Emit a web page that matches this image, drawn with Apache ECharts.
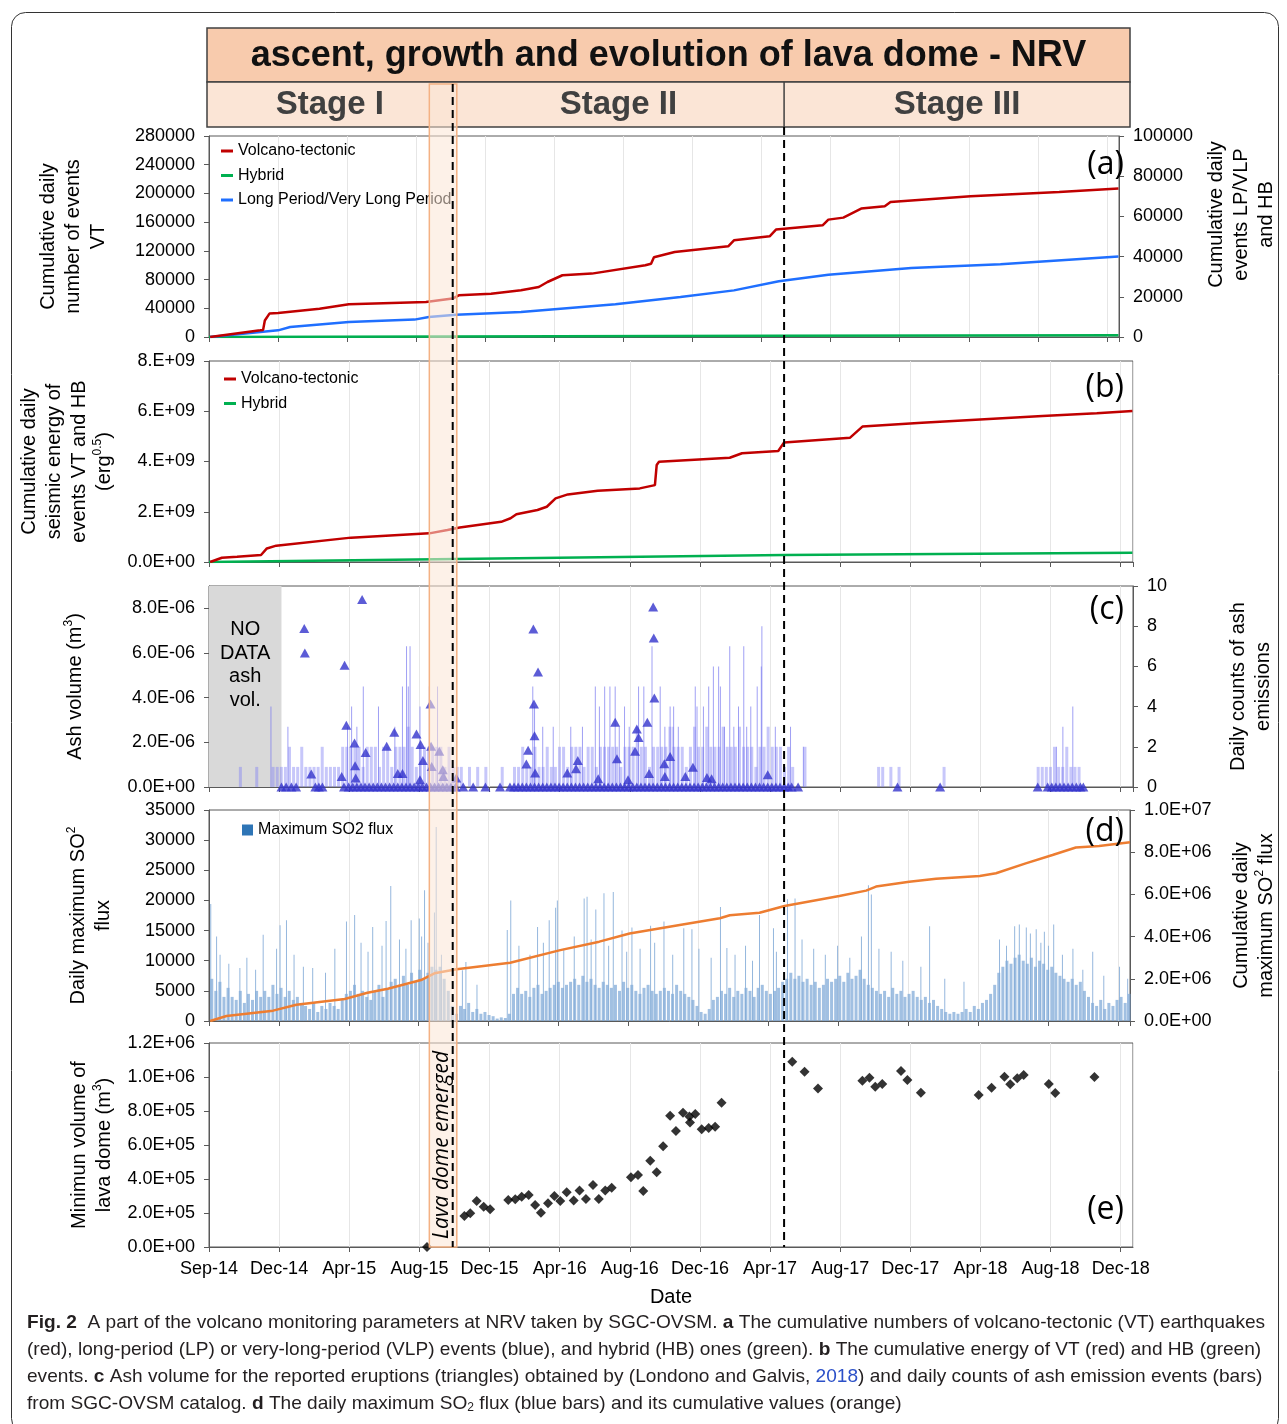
<!DOCTYPE html>
<html>
<head>
<meta charset="utf-8">
<title>NRV lava dome monitoring</title>
<script src="https://cdn.jsdelivr.net/npm/echarts@6.0.0/dist/echarts.min.js"></script>
<style>html,body{margin:0;padding:0;background:#fff;}</style>
</head>
<body>
<div id="main" style="width:1287px;height:1424px;"></div>
<script type="text/javascript">
// ---------- data ----------
var X_START = '2014-09-01';
var X_END = '2018-12-30';
var xTickLabels = ['Sep-14', 'Dec-14', 'Apr-15', 'Aug-15', 'Dec-15', 'Apr-16', 'Aug-16',
    'Dec-16', 'Apr-17', 'Aug-17', 'Dec-17', 'Apr-18', 'Aug-18', 'Dec-18'];

// stage limits / lava dome window
var bandStart = '2015-09-13';
var bandEnd = '2015-10-30';
var stage2Start = '2015-10-23';
var stage3Start = '2017-05-12';
var noDataEnd = '2015-01-03';

// (a) cumulative number of events
var vtCount = [['2014-09-03', 0], ['2014-11-29', 9300], ['2014-12-04', 9900], ['2014-12-07', 23000],
    ['2014-12-15', 32600], ['2014-12-30', 33400], ['2015-03-12', 39500], ['2015-05-02', 45500],
    ['2015-09-13', 48800], ['2015-10-29', 53500], ['2015-11-09', 58000], ['2016-01-04', 60400],
    ['2016-02-25', 65000], ['2016-03-27', 69700], ['2016-04-11', 76600], ['2016-05-07', 86000],
    ['2016-06-27', 88300], ['2016-09-28', 99900], ['2016-10-08', 102000], ['2016-10-13', 111000],
    ['2016-11-18', 118400], ['2017-02-19', 126300], ['2017-03-01', 134700], ['2017-05-02', 140300],
    ['2017-05-13', 149600], ['2017-08-02', 155600], ['2017-08-12', 163500], ['2017-09-07', 166300],
    ['2017-10-08', 178900], ['2017-11-18', 182100], ['2017-11-28', 188100], ['2018-04-16', 196000],
    ['2018-09-17', 202000], ['2018-12-29', 206700]];
var hbCount = [['2014-09-01', 0], ['2015-10-23', 300], ['2017-05-12', 600], ['2018-12-29', 850]];
var lpCount = [['2014-09-03', 0], ['2014-12-30', 3300], ['2015-01-20', 5000], ['2015-05-02', 7500],
    ['2015-08-24', 8650], ['2015-09-18', 9950], ['2015-11-04', 11100], ['2016-02-25', 12400],
    ['2016-08-07', 16300], ['2016-11-28', 19900], ['2017-03-01', 23200], ['2017-05-18', 27700],
    ['2017-08-12', 31000], ['2018-01-03', 34300], ['2018-06-07', 36200], ['2018-12-29', 40100]];

// (b) cumulative seismic energy
var vtEnergy = [['2014-09-03', 0], ['2014-09-23', 1.7e8], ['2014-10-19', 2.1e8], ['2014-11-29', 2.8e8],
    ['2014-12-09', 5.4e8], ['2014-12-25', 6.5e8], ['2015-05-02', 9.7e8], ['2015-09-13', 1.14e9],
    ['2015-10-14', 1.27e9], ['2015-11-04', 1.37e9], ['2016-01-14', 1.60e9], ['2016-01-30', 1.74e9],
    ['2016-02-09', 1.90e9], ['2016-03-16', 2.07e9], ['2016-04-01', 2.20e9], ['2016-04-16', 2.53e9],
    ['2016-05-07', 2.69e9], ['2016-06-27', 2.84e9], ['2016-09-07', 2.93e9], ['2016-10-03', 3.06e9],
    ['2016-10-06', 3.86e9], ['2016-10-10', 3.99e9], ['2017-02-08', 4.15e9], ['2017-03-01', 4.33e9],
    ['2017-05-02', 4.42e9], ['2017-05-12', 4.76e9], ['2017-09-02', 4.95e9], ['2017-09-23', 5.39e9],
    ['2018-01-03', 5.54e9], ['2018-07-28', 5.81e9], ['2018-10-29', 5.92e9], ['2018-12-29', 6.01e9]];
var hbEnergy = [['2014-09-01', 0], ['2015-10-29', 1.2e8], ['2017-05-12', 2.8e8], ['2018-12-29', 3.7e8]];

// (c) ash: weekly level of daily counts (from 2014-09-01, 7 days apart), single tall days, volumes
var ashWeekly = [0, 0, 0, 0, 0, 0, 0, 1, 0, 0, 0, 1, 0, 0, 0, 1, 1, 1,
    1, 2, 1, 1, 2, 1, 1, 1, 1, 2, 1, 1, 1, 1, 2,
    2, 2, 2, 2, 1, 2, 2, 2, 1, 2,
    2, 1, 2, 2, 2, 3, 2, 1, 2, 2, 2, 2,
    2, 2, 1, 2, 1, 1,
    1, 0, 1, 0, 1, 0, 1, 0, 0, 0, 1, 0, 0,
    1, 1, 2, 1, 1, 2, 1, 1, 2, 1, 1, 2,
    2, 1, 2, 2, 2, 1, 2, 2, 1, 2, 2, 2,
    2, 2, 1, 2, 2, 2, 3, 2, 2, 1, 2, 2,
    2, 2, 3, 2, 2, 2, 1, 2, 3, 2,
    2, 3, 2, 2, 2, 3, 2, 2, 2, 3,
    2, 2, 2, 1, 2, 2, 3, 2, 2,
    2, 1, 2, 1, 0, 0, 2,
    0, 0, 0, 0, 0, 0, 0, 0, 0, 0, 0, 0, 0, 0, 0, 0, 0,
    1, 1, 0, 1, 0, 1,
    0, 0, 0, 0, 0, 0, 0, 0, 0, 0, 1,
    0, 0, 0, 0, 0, 0, 0, 0, 0, 0, 0, 0, 0, 0, 0, 0, 0, 0, 0, 0, 0, 0,
    1, 1, 1, 1, 2, 1, 1, 2, 1, 1, 1,
    0, 0, 0, 0, 0, 0, 0, 0, 0, 0, 0, 0, 0];
var ashPeaks = [['2014-12-16', 4], ['2015-01-14', 3], ['2015-04-26', 3], ['2015-05-03', 4], ['2015-05-12', 3],
    ['2015-05-23', 5], ['2015-06-18', 4], ['2015-07-16', 3], ['2015-07-29', 5], ['2015-08-05', 7],
    ['2015-08-08', 5], ['2015-08-11', 7], ['2015-08-28', 4], ['2015-09-13', 5], ['2015-09-27', 5],
    ['2016-03-08', 5], ['2016-03-11', 4], ['2016-03-25', 3], ['2016-04-12', 3], ['2016-05-12', 3],
    ['2016-06-01', 3], ['2016-06-23', 5], ['2016-06-30', 4], ['2016-07-09', 5], ['2016-07-18', 5],
    ['2016-07-27', 5], ['2016-08-03', 3], ['2016-08-12', 4], ['2016-08-20', 3], ['2016-09-05', 5],
    ['2016-09-14', 5], ['2016-09-28', 7], ['2016-10-12', 5], ['2016-10-20', 3], ['2016-10-29', 4],
    ['2016-11-03', 3], ['2016-11-04', 4], ['2016-11-12', 3], ['2016-12-11', 5], ['2016-12-14', 4],
    ['2016-12-25', 4], ['2017-01-03', 5], ['2017-01-11', 6], ['2017-01-20', 6], ['2017-01-23', 5],
    ['2017-01-30', 3], ['2017-02-08', 7], ['2017-02-15', 3], ['2017-02-23', 4], ['2017-03-04', 7],
    ['2017-03-09', 3], ['2017-03-16', 4], ['2017-03-27', 5], ['2017-04-03', 6], ['2017-04-04', 8],
    ['2017-04-27', 3], ['2017-05-23', 3], ['2017-06-14', 2], ['2018-08-21', 2], ['2018-09-01', 3],
    ['2018-09-18', 4]];
var ashVolume = [['2015-02-11', 7.1e-6], ['2015-02-12', 6.0e-6], ['2015-02-23', 0.58e-6], ['2015-04-16', 0.47e-6],
    ['2015-04-21', 5.45e-6], ['2015-04-24', 2.76e-6], ['2015-05-08', 1.97e-6], ['2015-05-09', 0.95e-6],
    ['2015-05-10', 0.4e-6], ['2015-05-21', 8.4e-6], ['2015-05-27', 1.55e-6], ['2015-07-02', 1.82e-6],
    ['2015-07-15', 2.45e-6], ['2015-07-21', 0.6e-6], ['2015-07-29', 0.6e-6], ['2015-08-22', 2.37e-6],
    ['2015-08-28', 0.33e-6], ['2015-08-29', 1.9e-6], ['2015-09-02', 1.19e-6], ['2015-09-15', 3.72e-6],
    ['2015-09-16', 1.82e-6], ['2015-09-17', 0.92e-6], ['2015-09-30', 1.6e-6], ['2015-10-06', 0.77e-6],
    ['2015-10-07', 0.47e-6], ['2015-10-29', 0.4e-6], ['2016-02-26', 1.03e-6], ['2016-02-29', 1.64e-6],
    ['2016-03-09', 7.07e-6], ['2016-03-10', 3.72e-6], ['2016-03-11', 2.3e-6], ['2016-03-12', 0.63e-6],
    ['2016-03-17', 5.15e-6], ['2016-05-06', 0.63e-6], ['2016-05-21', 0.82e-6], ['2016-05-24', 1.19e-6],
    ['2016-06-28', 0.37e-6], ['2016-07-27', 2.9e-6], ['2016-07-30', 1.27e-6], ['2016-08-18', 0.33e-6],
    ['2016-08-30', 1.6e-6], ['2016-09-02', 2.6e-6], ['2016-09-05', 2.22e-6], ['2016-09-20', 2.9e-6],
    ['2016-09-23', 0.6e-6], ['2016-09-30', 8.06e-6], ['2016-10-01', 6.67e-6], ['2016-10-02', 3.99e-6],
    ['2016-10-19', 1.04e-6], ['2016-10-20', 0.47e-6], ['2016-10-29', 1.37e-6], ['2016-11-24', 0.47e-6],
    ['2016-12-07', 0.88e-6], ['2016-12-31', 0.43e-6], ['2017-01-08', 0.37e-6], ['2017-04-14', 0.55e-6]];
var ashZeroDates = ['2015-01-03', '2015-01-11', '2015-01-20', '2015-01-28', '2015-03-02', '2015-03-08', '2015-03-14',
    '2015-04-20', '2015-04-28', '2015-05-05', '2015-05-12', '2015-05-19', '2015-05-26', '2015-06-02', '2015-06-09',
    '2015-06-16', '2015-06-23', '2015-06-30', '2015-07-07', '2015-07-14', '2015-07-21', '2015-07-28', '2015-08-04',
    '2015-08-11', '2015-08-18', '2015-08-25', '2015-09-01', '2015-09-08', '2015-09-15', '2015-09-22', '2015-09-29',
    '2015-10-06', '2015-10-13', '2015-10-20', '2015-10-28', '2015-11-10', '2015-11-27', '2015-12-18', '2016-01-12',
    '2016-01-29', '2016-02-05', '2016-02-12', '2016-02-19', '2016-02-26', '2016-03-04', '2016-03-11', '2016-03-18',
    '2016-03-25', '2016-04-01', '2016-04-08', '2016-04-15', '2016-04-22', '2016-04-29', '2016-05-06', '2016-05-13',
    '2016-05-20', '2016-05-27', '2016-06-03', '2016-06-10', '2016-06-17', '2016-06-24', '2016-07-01', '2016-07-08',
    '2016-07-15', '2016-07-22', '2016-07-29', '2016-08-05', '2016-08-12', '2016-08-19', '2016-08-26', '2016-09-02',
    '2016-09-09', '2016-09-16', '2016-09-23', '2016-09-30', '2016-10-07', '2016-10-14', '2016-10-21', '2016-10-28',
    '2016-11-04', '2016-11-11', '2016-11-18', '2016-11-25', '2016-12-02', '2016-12-09', '2016-12-16', '2016-12-23',
    '2016-12-30', '2017-01-06', '2017-01-13', '2017-01-20', '2017-01-27', '2017-02-03', '2017-02-10', '2017-02-17',
    '2017-02-24', '2017-03-03', '2017-03-10', '2017-03-17', '2017-03-24', '2017-03-31', '2017-04-07', '2017-04-14',
    '2017-04-21', '2017-04-28', '2017-05-05', '2017-05-12', '2017-05-19', '2017-05-25', '2017-06-05', '2017-11-22',
    '2018-02-03', '2018-07-20', '2018-08-06', '2018-08-13', '2018-08-20', '2018-08-27', '2018-09-03', '2018-09-10',
    '2018-09-17', '2018-09-24', '2018-10-01', '2018-10-06'];

// (d) SO2: weekly level of the daily maximum flux (from 2014-09-01, 7 days apart), single high days, cumulative
var so2Weekly = [7000, 5000, 6500, 4000, 5500,
    4000, 3500, 5000, 3000, 4500, 3500, 5000, 4000,
    5000, 4000, 6000, 4500, 5500, 4000, 5000, 3500, 4000, 3000,
    2500, 2000, 3000, 1500, 2500, 2000, 3000, 2500, 2000, 3500, 4500,
    5000, 6000, 4500, 5000, 4000, 3500, 5000, 6000, 4000, 5500, 6500,
    7000, 6000, 7500, 6000, 8000, 6500, 8500, 7000, 8000, 9000,
    8500, 9000, 7000, 5000, 2500, 1200,
    2500, 2000, 3000, 1500, 2000, 1200, 1500, 1000, 800,
    400, 600, 500, 1200,
    4500, 5500, 4500, 5000, 4000, 5500, 6000, 4500, 5000, 5500, 6000, 6500, 5500, 6000,
    6500, 7000, 6000, 7500, 6500, 7000, 6000, 5500, 6500, 6000,
    5500, 6000, 5000, 6500, 5500, 6000, 5000, 4500, 5500, 6000, 5000, 4500, 5000, 5500,
    5000, 4500, 6000, 5000, 4500, 4000, 3500, 2500, 1500, 1200, 2000,
    3500, 4000, 5000, 4500, 5500, 4000, 5000, 4500, 5500, 5000, 4000, 5500, 6000, 5000, 4500, 5000, 5500, 6500, 7000,
    8000, 7000, 7500, 6500, 7000, 6000, 6500, 5500, 6000, 7000, 6500,
    7000, 7500, 6500, 8000, 7000, 7500, 8500, 7000, 6000, 5500, 5000,
    4500, 5000, 4000, 5500, 4500, 5000, 4000, 4500, 5000, 4000,
    3500, 4000, 3000, 3500, 2500, 2000, 1500, 1200, 1500, 1200,
    1500, 2000, 1500, 2500, 2000, 3000, 3500, 4500, 6000,
    8000, 9000, 10000, 9500, 10500, 11000, 10000, 9500, 10500, 9000, 10000, 9500, 8500, 9000,
    8000, 7500, 7000, 6500, 7000, 6000, 6500, 5000, 4000,
    3000, 2500, 3500, 2000, 3000, 2500, 3500, 4000, 3000, 4500];
var so2Peaks = [['2014-09-04', 19400], ['2014-09-14', 14000], ['2014-09-20', 11000], ['2014-10-05', 9500],
    ['2014-10-24', 8800], ['2014-11-05', 10500], ['2014-11-20', 8500], ['2014-12-03', 14300],
    ['2014-12-26', 12000], ['2015-01-01', 15900], ['2015-01-12', 16700], ['2015-01-25', 11000],
    ['2015-02-10', 9000], ['2015-02-26', 8800], ['2015-03-20', 8000], ['2015-04-05', 12000],
    ['2015-04-25', 16500], ['2015-05-09', 17600], ['2015-05-20', 13000], ['2015-06-01', 11500],
    ['2015-06-09', 15600], ['2015-06-25', 12500], ['2015-07-02', 16600], ['2015-07-10', 22400],
    ['2015-07-25', 13500], ['2015-08-05', 12000], ['2015-08-14', 16700], ['2015-08-28', 17000],
    ['2015-09-01', 14000], ['2015-09-06', 21700], ['2015-09-12', 13000], ['2015-09-23', 18000],
    ['2015-09-26', 32200], ['2015-10-05', 11000], ['2015-11-10', 8400], ['2015-11-16', 9800],
    ['2015-12-05', 6000], ['2016-01-26', 15100], ['2016-02-01', 20000], ['2016-02-15', 12500],
    ['2016-03-05', 11000], ['2016-03-18', 15600], ['2016-03-28', 13000], ['2016-04-07', 16700],
    ['2016-04-18', 18800], ['2016-04-21', 20000], ['2016-05-02', 12000], ['2016-05-20', 14000],
    ['2016-06-06', 20300], ['2016-06-11', 20600], ['2016-06-18', 13500], ['2016-06-26', 18500],
    ['2016-07-10', 21200], ['2016-07-18', 12500], ['2016-07-26', 21400], ['2016-08-10', 15000],
    ['2016-08-18', 11500], ['2016-08-27', 15500], ['2016-09-10', 12000], ['2016-09-28', 15800],
    ['2016-10-05', 13000], ['2016-10-21', 16500], ['2016-11-05', 11000], ['2016-11-24', 15400],
    ['2016-12-08', 15200], ['2016-12-20', 12000], ['2017-01-10', 10500], ['2017-01-26', 18900],
    ['2017-02-06', 12100], ['2017-02-20', 11000], ['2017-03-10', 12500], ['2017-03-22', 10000],
    ['2017-04-03', 17600], ['2017-04-27', 15400], ['2017-05-02', 11500], ['2017-05-21', 20200],
    ['2017-06-03', 20300], ['2017-06-15', 13500], ['2017-07-05', 12000], ['2017-07-25', 11000],
    ['2017-08-15', 12500], ['2017-09-05', 10500], ['2017-09-25', 14000], ['2017-10-07', 22500],
    ['2017-10-12', 21000], ['2017-10-25', 12000], ['2017-11-15', 11500], ['2017-12-05', 10000],
    ['2018-01-05', 9000], ['2018-01-20', 15700], ['2018-02-15', 7000], ['2018-03-20', 6500],
    ['2018-05-20', 13500], ['2018-06-01', 12500], ['2018-06-15', 15700], ['2018-06-23', 16000],
    ['2018-07-05', 15500], ['2018-07-12', 14500], ['2018-07-22', 15200], ['2018-07-30', 13000],
    ['2018-08-05', 14800], ['2018-08-12', 12500], ['2018-08-21', 16000], ['2018-09-05', 11000],
    ['2018-09-23', 12000], ['2018-10-10', 8500], ['2018-10-27', 11500], ['2018-11-15', 7500],
    ['2018-12-12', 9000], ['2018-12-26', 7000]];
var so2Cum = [['2014-09-03', 0], ['2014-10-01', 2.4e5], ['2014-12-20', 4.9e5], ['2015-01-29', 7.7e5],
    ['2015-04-22', 1.04e6], ['2015-05-31', 1.34e6], ['2015-07-05', 1.53e6], ['2015-08-31', 1.94e6],
    ['2015-09-23', 2.26e6], ['2015-10-31', 2.45e6], ['2016-01-31', 2.76e6], ['2016-04-26', 3.36e6],
    ['2016-07-02', 3.76e6], ['2016-08-23', 4.15e6], ['2016-11-17', 4.55e6], ['2017-01-25', 4.87e6],
    ['2017-02-11', 5.01e6], ['2017-04-03', 5.13e6], ['2017-05-16', 5.45e6], ['2017-08-18', 5.92e6],
    ['2017-10-03', 6.18e6], ['2017-10-20', 6.37e6], ['2017-12-16', 6.60e6], ['2018-01-31', 6.74e6],
    ['2018-04-16', 6.87e6], ['2018-05-14', 7.00e6], ['2018-07-04', 7.47e6], ['2018-08-19', 7.87e6],
    ['2018-09-28', 8.22e6], ['2018-11-07', 8.29e6], ['2018-12-30', 8.47e6]];

// (e) minimum lava dome volume
var domeVolume = [['2015-09-09', 0], ['2015-11-12', 182000], ['2015-11-22', 198000], ['2015-12-03', 271000],
    ['2015-12-15', 237000], ['2015-12-26', 222000], ['2016-01-26', 276000], ['2016-02-07', 281000],
    ['2016-02-18', 296000], ['2016-03-01', 306000], ['2016-03-12', 247000], ['2016-03-22', 202000],
    ['2016-04-03', 257000], ['2016-04-14', 300000], ['2016-04-24', 271000], ['2016-05-05', 322000],
    ['2016-05-17', 273000], ['2016-05-27', 333000], ['2016-06-07', 282000], ['2016-06-19', 365000],
    ['2016-06-29', 282000], ['2016-07-10', 333000], ['2016-07-21', 349000], ['2016-08-23', 410000],
    ['2016-09-04', 423000], ['2016-09-13', 329000], ['2016-09-25', 508000], ['2016-10-06', 439000],
    ['2016-10-17', 592000], ['2016-10-29', 772000], ['2016-11-08', 682000], ['2016-11-20', 790000],
    ['2016-12-01', 767000], ['2016-12-02', 733000], ['2016-12-11', 782000], ['2016-12-22', 692000],
    ['2017-01-03', 700000], ['2017-01-14', 708000], ['2017-01-25', 849000], ['2017-05-26', 1090000],
    ['2017-06-16', 1031000], ['2017-07-09', 933000], ['2017-09-23', 978000], ['2017-10-05', 996000],
    ['2017-10-15', 943000], ['2017-10-27', 959000], ['2017-11-28', 1035000], ['2017-12-09', 982000],
    ['2018-01-01', 908000], ['2018-04-10', 894000], ['2018-05-02', 937000], ['2018-05-24', 1002000],
    ['2018-06-03', 957000], ['2018-06-15', 992000], ['2018-06-26', 1012000], ['2018-08-08', 959000],
    ['2018-08-19', 906000], ['2018-10-25', 1000000]];

// ---------- helpers ----------
var FONT = '"Liberation Sans", Arial, sans-serif';
var T0 = Date.parse(X_START);
function day(s) { return (Date.parse(s) - T0) / 864e5; }
function pts(arr) { return arr.map(function (p) { return [day(p[0]), p[1]]; }); }
function weekly(arr) { return arr.map(function (v, i) { return [i * 7 + 3, v]; }); }
function pad2(n) { return (n < 10 ? '0' : '') + n; }
function plain(v) { return String(v); }
function sci(v) {
    if (v === 0) return '0.0E+00';
    var e = Math.floor(Math.log10(Math.abs(v)) + 1e-9);
    var m = v / Math.pow(10, e);
    return m.toFixed(1) + 'E' + (e < 0 ? '-' : '+') + pad2(Math.abs(e));
}
function sciShort(v) {
    if (v === 0) return '0.0E+00';
    var e = Math.floor(Math.log10(Math.abs(v)) + 1e-9);
    return Math.round(v / Math.pow(10, e)) + '.E+' + pad2(e);
}

var L = 209, W = 924;
var grids = [
    {left: L, top: 136, width: W, height: 201},
    {left: L, top: 361, width: W, height: 201},
    {left: L, top: 586, width: W, height: 201},
    {left: L, top: 810, width: W, height: 211},
    {left: L, top: 1043, width: W, height: 204}
];
var AX = '#595959';
var RICH = {sup: {fontSize: 12, fontFamily: FONT, color: '#000', verticalAlign: 'top', lineHeight: 14}};

function xAx(i) {
    return {
        type: 'value', gridIndex: i, min: 0, max: day(X_END), interval: 120,
        axisLine: {lineStyle: {color: AX}},
        axisTick: {show: true, length: 5, lineStyle: {color: AX}},
        splitLine: {show: true, lineStyle: {color: '#e6e6e6'}},
        axisLabel: {
            show: i === 4, showMaxLabel: false, margin: 13, color: '#000', fontSize: 18, fontFamily: FONT,
            formatter: function (v) { return xTickLabels[Math.round(v / 120)]; }
        },
        name: i === 4 ? 'Date' : '', nameLocation: 'middle', nameGap: 40,
        nameTextStyle: {color: '#000', fontSize: 20, fontFamily: FONT}
    };
}

function yAx(gi, pos, max, interval, fmt, name, gap, more) {
    var ax = {
        type: 'value', gridIndex: gi, position: pos, min: 0, max: max, interval: interval,
        axisLine: {show: true, lineStyle: {color: AX}},
        axisTick: {show: true, length: 5, lineStyle: {color: AX}},
        splitLine: {show: false},
        axisLabel: {color: '#000', fontSize: 18, fontFamily: FONT, margin: 14, formatter: fmt},
        name: name, nameLocation: 'middle', nameRotate: 90, nameGap: gap,
        nameTextStyle: {color: '#000', fontSize: 20, lineHeight: 25, fontFamily: FONT, rich: RICH}
    };
    if (more) more(ax);
    return ax;
}

function lineS(name, xi, yi, data, color) {
    return {
        name: name, type: 'line', xAxisIndex: xi, yAxisIndex: yi, data: pts(data),
        showSymbol: false, symbol: 'none', lineStyle: {color: color, width: 2.5},
        itemStyle: {color: color}, z: 3
    };
}

var RED = '#c00000', GREEN = '#00b050', BLUE = '#1f6fff', ORANGE = '#ed7d31';
var ASH = '#3333cc';
var LEG_TEXT = {fontSize: 16, fontFamily: FONT, color: '#000'};

var option = {
    animation: false,
    backgroundColor: '#fff',
    grid: grids.map(function (g) {
        return Object.assign({show: true, borderColor: AX, borderWidth: 1}, g);
    }),
    xAxis: [0, 1, 2, 3, 4].map(xAx),
    yAxis: [
        yAx(0, 'left', 280000, 40000, plain, 'Cumulative daily\nnumber of events\nVT', 98),
        yAx(0, 'right', 100000, 20000, plain, 'Cumulative daily\nevents LP/VLP\nand HB', 80, function (a) {
            a.nameTextStyle.padding = [0, 0, 0, 44];
        }),
        yAx(1, 'left', 8e9, 2e9, sciShort, 'Cumulative daily\nseismic energy of\nevents VT and HB\n(erg{sup|0.5})', 91),
        yAx(2, 'left', 9e-6, 2e-6, sci, 'Ash volume (m{sup|3})', 121, function (a) {
            a.axisLabel.showMaxLabel = false;
        }),
        yAx(2, 'right', 10, 2, plain, 'Daily counts of ash\nemissions', 93),
        yAx(3, 'left', 35000, 5000, plain, 'Daily maximum SO{sup|2}\nflux', 93),
        yAx(3, 'right', 1e7, 2e6, sci, 'Cumulative daily\nmaximum SO{sup|2} flux', 99),
        yAx(4, 'left', 1.2e6, 2e5, sci, 'Minimun volume of\nlava dome (m{sup|3})', 91)
    ],
    legend: [
        {
            data: ['Volcano-tectonic', 'Hybrid', 'Long Period/Very Long Period'],
            left: 221, top: 143, padding: 0, orient: 'vertical', itemGap: 8.5, itemWidth: 12, itemHeight: 3,
            icon: 'rect', textStyle: LEG_TEXT, selectedMode: false
        },
        {
            data: ['Volcano-tectonic', 'Hybrid'],
            left: 224, top: 371, padding: 0, orient: 'vertical', itemGap: 8.5, itemWidth: 12, itemHeight: 3,
            icon: 'rect', textStyle: LEG_TEXT, selectedMode: false
        },
        {
            data: [{name: 'Maximum SO2 flux', icon: 'rect', itemStyle: {color: '#2e75b6'}}],
            left: 242, top: 822, padding: 0, itemWidth: 11, itemHeight: 11,
            textStyle: LEG_TEXT, selectedMode: false
        }
    ],
    series: [
        // (a)
        lineS('Hybrid', 0, 1, hbCount, GREEN),
        lineS('Long Period/Very Long Period', 0, 1, lpCount, BLUE),
        lineS('Volcano-tectonic', 0, 0, vtCount, RED),
        // (b)
        lineS('Hybrid', 1, 2, hbEnergy, GREEN),
        lineS('Volcano-tectonic', 1, 2, vtEnergy, RED),
        // (c)
        {
            name: 'Ash emission counts', type: 'bar', xAxisIndex: 2, yAxisIndex: 4,
            data: weekly(ashWeekly), barWidth: 3, barGap: '-100%',
            itemStyle: {color: 'rgba(130,130,245,0.45)'}, z: 2,
            markArea: {
                silent: true, itemStyle: {color: '#d9d9d9'},
                label: {
                    show: true, position: 'insideTop', distance: 32, formatter: 'NO\nDATA\nash\nvol.',
                    fontSize: 20, lineHeight: 23.5, fontFamily: FONT, color: '#000', align: 'center'
                },
                data: [[{xAxis: 0}, {xAxis: day(noDataEnd)}]]
            }
        },
        {
            name: 'Ash emission counts', type: 'bar', xAxisIndex: 2, yAxisIndex: 4,
            data: pts(ashPeaks), barWidth: 1, barGap: '-100%',
            itemStyle: {color: 'rgba(120,120,240,0.7)'}, z: 2
        },
        {
            name: 'Ash volume zero', type: 'scatter', xAxisIndex: 2, yAxisIndex: 3,
            data: ashZeroDates.map(function (d) { return [day(d), 0]; }),
            symbol: 'triangle', symbolSize: [10, 9], itemStyle: {color: ASH}, z: 4, clip: false
        },
        {
            name: 'Ash volume', type: 'scatter', xAxisIndex: 2, yAxisIndex: 3,
            data: pts(ashVolume), symbol: 'triangle', symbolSize: [10, 9], itemStyle: {color: ASH}, z: 4
        },
        // (d)
        {
            name: 'Maximum SO2 flux', type: 'bar', xAxisIndex: 3, yAxisIndex: 5,
            data: weekly(so2Weekly), barWidth: 3, barGap: '-100%',
            itemStyle: {color: 'rgba(125,168,215,0.72)'}, z: 2
        },
        {
            name: 'Maximum SO2 flux', type: 'bar', xAxisIndex: 3, yAxisIndex: 5,
            data: pts(so2Peaks), barWidth: 1, barGap: '-100%',
            itemStyle: {color: 'rgba(130,170,215,0.85)'}, z: 2
        },
        lineS('Cumulative SO2', 3, 6, so2Cum, ORANGE),
        // (e)
        {
            name: 'Lava dome volume', type: 'scatter', xAxisIndex: 4, yAxisIndex: 7,
            data: pts(domeVolume), symbol: 'diamond', symbolSize: 10, itemStyle: {color: '#000'}, z: 4, clip: false
        }
    ]
};

var chart = echarts.init(document.getElementById('main'));
chart.setOption(option);

// ---------- annotations ----------
function px(d) { return chart.convertToPixel({gridIndex: 4}, [day(d), 0])[0]; }
var xBandL = px(bandStart), xBandR = px(bandEnd);
var xDash1 = px(stage2Start), xDash2 = px(stage3Start);
var bottom = grids[4].top + grids[4].height;
var boxL = 207, boxR = 1130;
var labelDy = [29, 27, 24, 22];

var g = [];
g.push({type: 'rect', shape: {x: 11.5, y: 12.5, width: 1267, height: 1420, r: 14},
    style: {fill: 'none', stroke: '#333', lineWidth: 1}, z: 1});
g.push({type: 'rect', shape: {x: boxL, y: 28, width: boxR - boxL, height: 54},
    style: {fill: '#f8cbad', stroke: '#404040', lineWidth: 1.5}, z: 50});
g.push({type: 'rect', shape: {x: boxL, y: 82, width: boxR - boxL, height: 45},
    style: {fill: '#fbe5d6', stroke: '#404040', lineWidth: 1.5}, z: 50});
g.push({type: 'line', shape: {x1: xDash2, y1: 82, x2: xDash2, y2: 127},
    style: {stroke: '#404040', lineWidth: 1.5}, z: 51});
g.push({type: 'text', x: (boxL + boxR) / 2, y: 56, z: 52,
    style: {text: 'ascent, growth and evolution of lava dome - NRV', fontSize: 36, fontWeight: 'bold',
        fontFamily: FONT, fill: '#111', align: 'center', verticalAlign: 'middle'}});
[['Stage I', boxL, xDash1], ['Stage II', xDash1, xDash2], ['Stage III', xDash2, boxR]].forEach(function (s) {
    g.push({type: 'text', x: (s[1] + s[2]) / 2, y: 105, z: 52,
        style: {text: s[0], fontSize: 33, fontWeight: 'bold', fontFamily: FONT, fill: '#404040',
            align: 'center', verticalAlign: 'middle'}});
});
g.push({type: 'rect', shape: {x: xBandL, y: 84, width: xBandR - xBandL, height: bottom - 84},
    style: {fill: 'rgba(251,229,214,0.55)', stroke: '#f4b183', lineWidth: 1.5}, z: 100});
g.push({type: 'line', shape: {x1: xDash1, y1: 84, x2: xDash1, y2: bottom},
    style: {stroke: '#000', lineWidth: 2, lineDash: [8, 5]}, z: 101});
g.push({type: 'line', shape: {x1: xDash2, y1: 127, x2: xDash2, y2: bottom},
    style: {stroke: '#000', lineWidth: 2, lineDash: [8, 5]}, z: 101});
g.push({type: 'text', x: (xBandL + xBandR) / 2 - 1, y: 1145, rotation: Math.PI / 2, z: 102,
    style: {text: 'Lava dome emerged', fontSize: 21, fontStyle: 'italic', fontFamily: '"Open Sans", sans-serif',
        fill: '#000', align: 'center', verticalAlign: 'middle'}});
['(a)', '(b)', '(c)', '(d)', '(e)'].forEach(function (t, i) {
    var gr = grids[i];
    var y = i < 4 ? gr.top + labelDy[i] : gr.top + gr.height - 37;
    g.push({type: 'text', x: gr.left + gr.width - 9, y: y, z: 60,
        style: {text: t, fontSize: 32, fontFamily: '"Open Sans", sans-serif', fill: '#000',
            align: 'right', verticalAlign: 'middle'}});
});

// caption
var capLines = [
    ['{b|Fig. 2}  A part of the volcano monitoring parameters at NRV taken by SGC-OVSM. {b|a} The cumulative numbers of volcano-tectonic (VT) earthquakes',
        'Fig. 2  A part of the volcano monitoring parameters at NRV taken by SGC-OVSM. a The cumulative numbers of volcano-tectonic (VT) earthquakes'],
    ['(red), long-period (LP) or very-long-period (VLP) events (blue), and hybrid (HB) ones (green). {b|b} The cumulative energy of VT (red) and HB (green)'],
    ['events. {b|c} Ash volume for the reported eruptions (triangles) obtained by (Londono and Galvis, {l|2018}) and daily counts of ash emission events (bars)'],
    ['from SGC-OVSM catalog. {b|d} The daily maximum SO{s|2} flux (blue bars) and its cumulative values (orange)']
];
var ctx = document.createElement('canvas').getContext('2d');
ctx.font = '19px "Liberation Sans"';
var capScale = 1236 / ctx.measureText(capLines[0][1]).width;
var CAP = '#231f20';
capLines.forEach(function (ln, i) {
    g.push({type: 'text', x: 27, y: 1323 + i * 27, scaleX: capScale, z: 60,
        style: {text: ln[0], fontSize: 19, fontFamily: FONT, fill: CAP, align: 'left', verticalAlign: 'middle',
            rich: {
                b: {fontSize: 19, fontFamily: FONT, fontWeight: 'bold', fill: CAP},
                l: {fontSize: 19, fontFamily: FONT, fill: '#2b50c8'},
                s: {fontSize: 12, fontFamily: FONT, fill: CAP, verticalAlign: 'bottom'}
            }}});
});

chart.setOption({graphic: g});
</script>
</body>
</html>
